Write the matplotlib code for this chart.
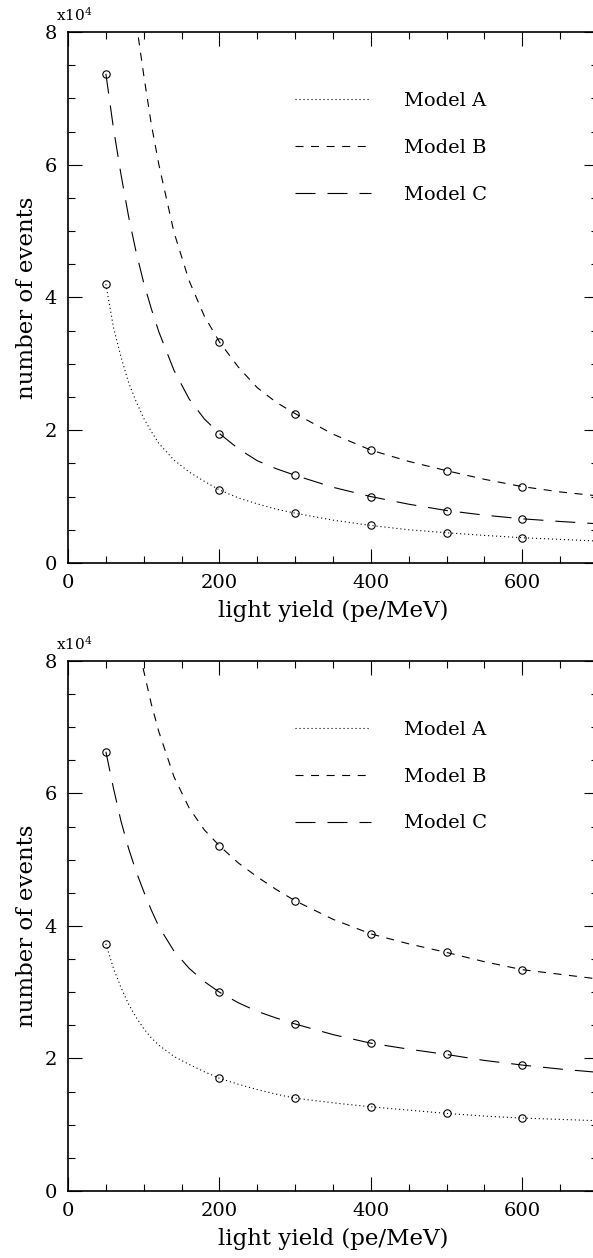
import numpy as np
import matplotlib
matplotlib.use("Agg")
import matplotlib.pyplot as plt
from matplotlib.ticker import MultipleLocator

light_yield = [50, 60, 70, 80, 90, 100, 110, 120, 140, 160, 180, 200,
               225, 250, 275, 300, 350, 400, 450, 500, 550, 600, 650, 700]
# model B starts above the frame, so it has its own grid
light_yield_b = [90, 100, 110, 120, 140, 160, 180, 200,
                 225, 250, 275, 300, 350, 400, 450, 500, 550, 600, 650, 700]
# points that carry a circle marker
marked_yield = [50, 200, 300, 400, 500, 600]

# number of events, in units of 1e4
top_a = [4.20, 3.55, 3.10, 2.72, 2.43, 2.18, 1.98, 1.80, 1.55, 1.37, 1.23, 1.10,
         0.98, 0.89, 0.81, 0.75, 0.645, 0.565, 0.50, 0.455, 0.415, 0.38, 0.355, 0.33]
top_b = [8.15, 7.35, 6.61, 6.00, 4.98, 4.25, 3.72, 3.33,
         2.95, 2.64, 2.42, 2.25, 1.94, 1.70, 1.53, 1.39, 1.26, 1.15, 1.07, 1.01]
top_c = [7.37, 6.55, 5.85, 5.22, 4.68, 4.22, 3.83, 3.48, 2.90, 2.47, 2.17, 1.95,
         1.72, 1.54, 1.42, 1.32, 1.14, 1.00, 0.885, 0.79, 0.72, 0.665, 0.625, 0.59]

bot_a = [3.73, 3.36, 3.07, 2.82, 2.62, 2.45, 2.31, 2.20, 2.03, 1.91, 1.80, 1.70,
         1.61, 1.53, 1.46, 1.40, 1.33, 1.27, 1.22, 1.17, 1.13, 1.10, 1.08, 1.06]
bot_b = [8.35, 7.85, 7.35, 6.93, 6.25, 5.78, 5.45, 5.21,
         4.95, 4.74, 4.55, 4.38, 4.10, 3.88, 3.73, 3.60, 3.46, 3.34, 3.27, 3.20]
bot_c = [6.63, 6.08, 5.58, 5.17, 4.82, 4.52, 4.24, 3.99, 3.62, 3.36, 3.16, 3.00,
         2.84, 2.71, 2.61, 2.52, 2.36, 2.23, 2.14, 2.06, 1.97, 1.90, 1.84, 1.79]

labels = ["Model A", "Model B", "Model C"]
styles = [(0, (1, 2.6)), (0, (7.2, 6.8)), (0, (18, 10.8))]

plt.rcParams["font.family"] = "DejaVu Serif"
plt.rcParams["mathtext.fontset"] = "dejavuserif"

LW = 0.8


def draw_panel(ax, series):
    handles = []
    for (xs, ys), ls, lab in zip(series, styles, labels):
        xs = np.asarray(xs)
        ys = np.asarray(ys)
        h, = ax.plot(xs, ys, color="black", lw=LW, linestyle=ls, label=lab)
        handles.append(h)
        m = np.isin(xs, marked_yield)
        ax.plot(xs[m], ys[m], linestyle="none", marker="o", ms=5.3,
                mfc="none", mec="black", mew=0.8)

    ax.set_xlim(0, 700)
    ax.set_ylim(0, 8)
    ax.xaxis.set_major_locator(MultipleLocator(200))
    ax.xaxis.set_minor_locator(MultipleLocator(50))
    ax.yaxis.set_major_locator(MultipleLocator(2))
    ax.yaxis.set_minor_locator(MultipleLocator(0.5))
    ax.tick_params(which="both", direction="in", top=True, right=True,
                   labelsize=14, width=0.8)
    ax.tick_params(which="major", length=10, pad=8)
    ax.tick_params(which="minor", length=5)
    for sp in ax.spines.values():
        sp.set_linewidth(1.2)

    ax.set_xlabel("light yield (pe/MeV)", fontsize=16.5, labelpad=6)
    ax.set_ylabel("number of events", fontsize=16.5, labelpad=5)
    ax.text(-0.022, 1.015, r"x10$^4$", transform=ax.transAxes,
            fontsize=11, ha="left", va="bottom")

    ax.legend(handles=handles, loc="upper left", bbox_to_anchor=(0.428, 0.887),
              frameon=False, fontsize=14, borderaxespad=0, borderpad=0,
              handlelength=3.9, handletextpad=1.7, labelspacing=1.48)


fig = plt.figure(figsize=(5.93, 12.58), dpi=100)
ax_top = fig.add_axes([0.1147, 0.5525, 0.8938, 0.4221])
ax_bot = fig.add_axes([0.1147, 0.0533, 0.8938, 0.4213])

draw_panel(ax_top, [(light_yield, top_a), (light_yield_b, top_b), (light_yield, top_c)])
draw_panel(ax_bot, [(light_yield, bot_a), (light_yield_b, bot_b), (light_yield, bot_c)])

fig.savefig("out.png", dpi=100)
